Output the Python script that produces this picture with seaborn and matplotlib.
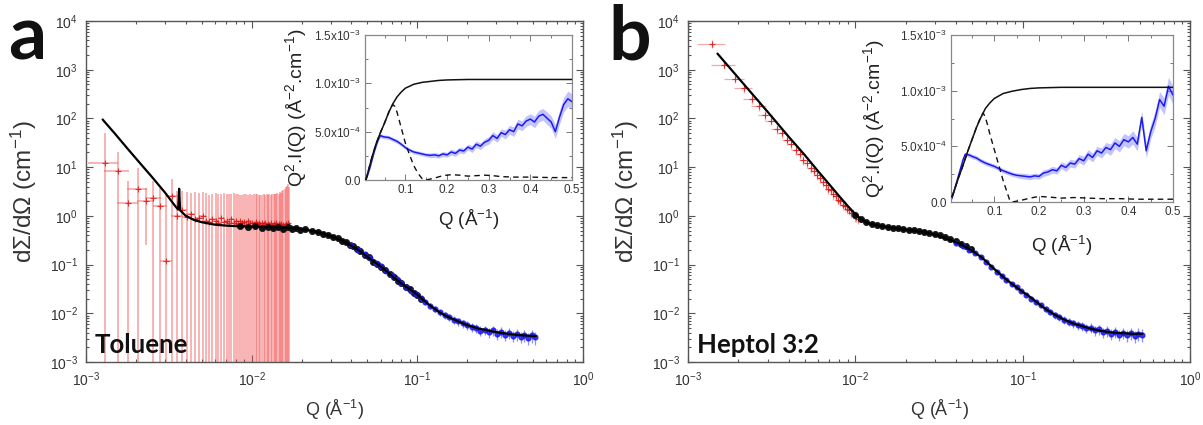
import matplotlib
matplotlib.use("Agg")
import numpy as np
import matplotlib.pyplot as plt
import seaborn as sns
from matplotlib.ticker import LogLocator, NullFormatter, AutoMinorLocator

sns.set_theme(style="ticks")
plt.rcParams["font.family"] = ["Liberation Sans", "DejaVu Sans"]
plt.rcParams["mathtext.default"] = "regular"

# ---------------- data: panel a (toluene) ----------------
# low-Q (red) points
q_sans_a = [0.00130, 0.00155, 0.00180, 0.00205, 0.00230, 0.00255, 0.00280, 0.00305, 0.00330, 0.00355,
            0.00380, 0.00405, 0.00430, 0.00455, 0.00480, 0.00505, 0.00530, 0.00555, 0.00580, 0.00605,
            0.00630, 0.00655, 0.00680, 0.00705, 0.00730, 0.00755, 0.00780, 0.00805, 0.00830, 0.00855,
            0.00880, 0.00905, 0.00930, 0.00955, 0.00980, 0.01005, 0.01030, 0.01055, 0.01080, 0.01105,
            0.01130, 0.01155, 0.01180, 0.01205, 0.01230, 0.01255, 0.01280, 0.01305, 0.01330, 0.01355,
            0.01380, 0.01405, 0.01430, 0.01455, 0.01480, 0.01505, 0.01530, 0.01555, 0.01580, 0.01605,
            0.01630, 0.01655, 0.01680]
i_sans_a = [12.0, 8.5, 1.8, 3.6, 2.0, 2.3, 1.6, 0.12, 2.6, 1.0,
            1.3, 0.95, 1.1, 0.85, 0.9, 1.0, 0.8, 0.75, 0.85, 0.8,
            0.7, 0.9, 0.75, 0.8, 0.7, 0.85, 0.72, 0.78, 0.68, 0.8,
            0.7, 0.74, 0.66, 0.78, 0.7, 0.72, 0.65, 0.75, 0.68, 0.7,
            0.64, 0.72, 0.67, 0.7, 0.62, 0.69, 0.66, 0.71, 0.63, 0.68,
            0.65, 0.7, 0.62, 0.67, 0.64, 0.69, 0.61, 0.66, 0.63, 0.68,
            0.6, 0.7, 0.65]
e_sans_a = [38.0, 12.0, 3.5, 6.0, 1.75, 2.8, 2.2, 2.6, 3.0, 2.2,
            2.0, 2.1, 1.8, 2.2, 2.0, 2.1, 2.2, 1.9, 2.0, 2.1,
            2.1, 1.9, 2.2, 2.0, 2.1, 1.9, 2.2, 2.0, 2.1, 1.9,
            2.0, 2.1, 2.2, 1.9, 2.1, 2.0, 2.2, 2.0, 2.1, 2.0,
            2.1, 2.0, 2.1, 2.0, 2.2, 2.0, 2.1, 2.0, 2.2, 2.1,
            2.2, 2.1, 2.3, 2.2, 2.4, 2.3, 2.6, 2.7, 3.0, 3.2,
            3.5, 3.8, 3.2]
SANS_DQ = 0.00027

# mid-Q (black) points
q_mid_a = [0.0085, 0.0095, 0.0105, 0.0115, 0.0125, 0.0135, 0.0145, 0.0155, 0.0165, 0.0175,
           0.0185, 0.0195, 0.021, 0.023, 0.025, 0.027, 0.029, 0.031, 0.033, 0.035,
           0.037, 0.039, 0.041, 0.043, 0.045, 0.048, 0.051, 0.054, 0.057, 0.060,
           0.064, 0.068, 0.072, 0.076, 0.080, 0.085, 0.090, 0.095, 0.100, 0.105]
i_mid_a = [0.63, 0.58, 0.62, 0.57, 0.60, 0.56, 0.59, 0.55, 0.58, 0.54,
           0.56, 0.52, 0.53, 0.48, 0.47, 0.42, 0.41, 0.36, 0.35, 0.30,
           0.29, 0.25, 0.235, 0.205, 0.19, 0.16, 0.14, 0.115, 0.104, 0.088,
           0.077, 0.064, 0.056, 0.047, 0.042, 0.035, 0.031, 0.026, 0.024, 0.020]
MID_REL_ERR = 0.12

# high-Q (blue) points, same Q grid for both panels
q_saxs = [0.040, 0.044, 0.048, 0.052, 0.056, 0.060, 0.065, 0.070, 0.075, 0.080,
          0.086, 0.092, 0.098, 0.105, 0.112, 0.120, 0.128, 0.137, 0.146, 0.156,
          0.166, 0.177, 0.188, 0.200, 0.213, 0.226, 0.240, 0.255, 0.270, 0.286,
          0.303, 0.320, 0.338, 0.357, 0.377, 0.398, 0.420, 0.443, 0.467, 0.492,
          0.515]
i_saxs_a = [0.25, 0.20, 0.165, 0.135, 0.11, 0.092, 0.073, 0.060, 0.050, 0.041,
            0.035, 0.029, 0.025, 0.0205, 0.0172, 0.0142, 0.0122, 0.0104, 0.0091, 0.0082,
            0.0074, 0.0068, 0.0062, 0.0058, 0.0052, 0.0050, 0.0044, 0.0046, 0.0041, 0.0045,
            0.0038, 0.0042, 0.0036, 0.0040, 0.0034, 0.0037, 0.0033, 0.0036, 0.0031, 0.0035,
            0.0032]
rel_err_saxs = [0.05, 0.05, 0.06, 0.06, 0.06, 0.07, 0.07, 0.08, 0.08, 0.09,
                0.09, 0.10, 0.10, 0.11, 0.12, 0.12, 0.13, 0.14, 0.15, 0.16,
                0.17, 0.18, 0.19, 0.20, 0.20, 0.21, 0.22, 0.22, 0.23, 0.24,
                0.24, 0.25, 0.25, 0.26, 0.26, 0.27, 0.27, 0.28, 0.28, 0.30,
                0.30]

# model fit (black line)
q_fit_a = [0.00126, 0.0015, 0.0018, 0.0021, 0.0025, 0.0030, 0.0035, 0.00360, 0.00365, 0.00370,
           0.0040, 0.0045, 0.0050, 0.0060, 0.0070, 0.0085, 0.010, 0.012, 0.015, 0.018,
           0.021, 0.024, 0.027, 0.031, 0.036, 0.042, 0.047, 0.052, 0.058, 0.065,
           0.071, 0.080, 0.090, 0.100, 0.116, 0.136, 0.150, 0.177, 0.200, 0.232,
           0.270, 0.300, 0.350, 0.400, 0.450, 0.520]
i_fit_a = [95, 48, 23, 12.5, 6.3, 3.0, 1.5, 1.35, 3.6, 1.3,
           1.0, 0.82, 0.74, 0.66, 0.63, 0.61, 0.60, 0.59, 0.57, 0.55,
           0.52, 0.48, 0.43, 0.37, 0.30, 0.22, 0.17, 0.13, 0.10, 0.074,
           0.057, 0.041, 0.031, 0.024, 0.0155, 0.0105, 0.0087, 0.0068, 0.0057, 0.0049,
           0.0044, 0.0041, 0.0038, 0.0036, 0.0035, 0.0034]

# ---------------- data: panel b (heptol 3:2) ----------------
q_sans_b = [0.00140, 0.00165, 0.00190, 0.00215, 0.00240, 0.00265, 0.00290, 0.00315, 0.00340, 0.00365,
            0.00390, 0.00415, 0.00440, 0.00465, 0.00490, 0.00515, 0.00540, 0.00565, 0.00590, 0.00615,
            0.00640, 0.00665, 0.00690, 0.00715, 0.00740, 0.00765, 0.00790, 0.00815, 0.00840, 0.00865,
            0.00890, 0.00915, 0.00940, 0.00965, 0.00990, 0.01015, 0.01040]
i_sans_b = [3400, 1250, 650, 420, 250, 180, 118, 90, 62, 50,
            36, 30, 22, 18.5, 14.2, 12.3, 9.6, 8.5, 6.8, 6.1,
            4.9, 4.4, 3.6, 3.35, 2.75, 2.55, 2.15, 2.0, 1.7, 1.62,
            1.4, 1.33, 1.17, 1.12, 1.0, 0.97, 0.88]
e_sans_b = [600, 200, 120, 80, 50, 36, 24, 18, 13, 10,
            7.5, 6.2, 4.6, 3.9, 3.0, 2.6, 2.0, 1.8, 1.45, 1.3,
            1.05, 0.95, 0.8, 0.72, 0.6, 0.56, 0.48, 0.44, 0.38, 0.36,
            0.32, 0.3, 0.27, 0.26, 0.24, 0.23, 0.21]

q_mid_b = [0.0100, 0.0108, 0.0116, 0.0125, 0.0135, 0.0145, 0.0156, 0.0168, 0.0180, 0.0194,
           0.0208, 0.0224, 0.0240, 0.0258, 0.0277, 0.0298, 0.0320, 0.0344, 0.0370, 0.0397,
           0.0427, 0.0459, 0.0493]
i_mid_b = [1.02, 0.86, 0.74, 0.69, 0.64, 0.62, 0.59, 0.57, 0.555, 0.54,
           0.52, 0.51, 0.49, 0.47, 0.455, 0.43, 0.40, 0.37, 0.335, 0.30,
           0.27, 0.235, 0.205]

i_saxs_b = [0.28, 0.24, 0.20, 0.17, 0.14, 0.115, 0.09, 0.071, 0.058, 0.048,
            0.040, 0.034, 0.029, 0.024, 0.020, 0.017, 0.0145, 0.0122, 0.0106, 0.0093,
            0.0083, 0.0074, 0.0067, 0.0062, 0.0057, 0.0055, 0.0050, 0.0051, 0.0045, 0.0047,
            0.0041, 0.0044, 0.0038, 0.0042, 0.0036, 0.0040, 0.0035, 0.0039, 0.0034, 0.0038,
            0.0036]

q_fit_b = [0.0015, 0.0020, 0.0030, 0.0040, 0.0050, 0.0060, 0.0070, 0.0080, 0.0090, 0.0100,
           0.0110, 0.0120, 0.0140, 0.0170, 0.0210, 0.0260, 0.0310, 0.0360, 0.0420, 0.0490,
           0.0570, 0.0650, 0.0710, 0.0800, 0.0900, 0.0980, 0.110, 0.125, 0.136, 0.155,
           0.177, 0.200, 0.232, 0.270, 0.300, 0.350, 0.400, 0.450, 0.520]
i_fit_b = [2140, 680, 135, 42, 17.5, 8.2, 4.4, 2.55, 1.6, 1.08,
           0.82, 0.70, 0.62, 0.56, 0.51, 0.46, 0.40, 0.33, 0.27, 0.20,
           0.14, 0.092, 0.070, 0.049, 0.036, 0.029, 0.022, 0.0155, 0.0125, 0.0094,
           0.0074, 0.0062, 0.0053, 0.0046, 0.0043, 0.0040, 0.0039, 0.0038, 0.0038]

# ---------------- data: Kratky insets (units of 1e-4) ----------------
q_kr = [0.005, 0.010, 0.015, 0.020, 0.025, 0.030, 0.035, 0.040, 0.045, 0.050,
        0.06, 0.07, 0.08, 0.09, 0.10, 0.11, 0.12, 0.13, 0.14, 0.15,
        0.16, 0.17, 0.18, 0.19, 0.20, 0.21, 0.22, 0.23, 0.24, 0.25,
        0.26, 0.27, 0.28, 0.29, 0.30, 0.31, 0.32, 0.33, 0.34, 0.35,
        0.36, 0.37, 0.38, 0.39, 0.40, 0.41, 0.42, 0.43, 0.44, 0.45,
        0.46, 0.47, 0.48, 0.49, 0.50]
kr_a = [0.0, 0.6, 1.3, 2.1, 2.9, 3.6, 4.2, 4.6, 4.5, 4.45,
        4.4, 4.2, 4.0, 3.7, 3.35, 3.1, 2.9, 2.8, 2.7, 2.6,
        2.55, 2.6, 2.5, 2.7, 2.6, 2.9, 2.75, 3.1, 3.0, 3.4,
        3.2, 3.7, 3.5, 3.9, 4.1, 4.6, 4.3, 4.9, 4.7, 5.2,
        5.0, 5.8, 5.6, 6.1, 6.3, 6.0, 6.6, 6.8, 6.4, 6.0,
        5.0, 6.5, 7.8, 8.4, 8.1]
kr_b = [0.3, 1.0, 1.7, 2.4, 3.1, 3.8, 4.3, 4.25, 4.2, 4.1,
        3.95, 3.7, 3.5, 3.35, 3.2, 3.0, 2.8, 2.65, 2.5, 2.4,
        2.35, 2.3, 2.25, 2.35, 2.3, 2.6, 2.7, 2.9, 2.8, 3.3,
        3.1, 3.5, 3.4, 3.9, 3.7, 4.3, 4.0, 4.6, 4.4, 4.9,
        4.7, 5.3, 5.0, 5.6, 5.4, 5.8, 5.2, 7.6, 4.6, 6.3,
        7.5, 9.2, 8.6, 10.4, 9.6]
kr_err = [0.05, 0.1, 0.1, 0.1, 0.1, 0.15, 0.15, 0.2, 0.2, 0.2,
          0.2, 0.2, 0.2, 0.2, 0.2, 0.2, 0.2, 0.2, 0.2, 0.2,
          0.25, 0.25, 0.25, 0.25, 0.25, 0.3, 0.3, 0.3, 0.3, 0.3,
          0.35, 0.35, 0.35, 0.35, 0.4, 0.4, 0.4, 0.4, 0.45, 0.45,
          0.5, 0.5, 0.5, 0.55, 0.55, 0.6, 0.6, 0.6, 0.65, 0.65,
          0.7, 0.7, 0.75, 0.8, 0.8]

q_kr_fit = [0.005, 0.01, 0.02, 0.03, 0.04, 0.05, 0.06, 0.07, 0.08, 0.09,
            0.10, 0.12, 0.14, 0.16, 0.18, 0.20, 0.25, 0.30, 0.40, 0.50]
kr_fit_a = [0.0, 0.8, 2.4, 3.8, 4.9, 5.9, 7.0, 7.9, 8.6, 9.1,
            9.5, 9.9, 10.1, 10.2, 10.3, 10.35, 10.4, 10.4, 10.4, 10.4]
kr_fit_b = [0.45, 1.0, 2.2, 3.3, 4.5, 5.6, 6.7, 7.6, 8.4, 8.9,
            9.3, 9.75, 9.95, 10.1, 10.2, 10.25, 10.3, 10.3, 10.3, 10.3]

q_kr_dash_a = [0.005, 0.01, 0.02, 0.03, 0.04, 0.05, 0.06, 0.065, 0.07, 0.075,
               0.08, 0.09, 0.10, 0.11, 0.12, 0.13, 0.14, 0.15, 0.17, 0.19,
               0.21, 0.23, 0.25, 0.27, 0.29, 0.31, 0.33, 0.36, 0.40, 0.45, 0.50]
kr_dash_a = [0.0, 0.8, 2.4, 3.8, 4.9, 5.9, 7.0, 7.5, 7.8, 7.6,
             7.0, 5.4, 3.8, 2.6, 1.5, 0.7, 0.15, 0.0, 0.2, 0.45,
             0.55, 0.5, 0.4, 0.45, 0.5, 0.45, 0.35, 0.3, 0.3, 0.25, 0.25]
q_kr_dash_b = [0.005, 0.01, 0.02, 0.03, 0.04, 0.05, 0.06, 0.07, 0.075, 0.08,
               0.085, 0.09, 0.10, 0.11, 0.12, 0.13, 0.135, 0.14, 0.16, 0.18,
               0.20, 0.22, 0.25, 0.28, 0.31, 0.34, 0.38, 0.42, 0.46, 0.50]
kr_dash_b = [0.45, 1.0, 2.2, 3.3, 4.5, 5.6, 6.7, 7.7, 8.0, 7.6,
             6.9, 6.1, 4.7, 3.3, 1.9, 0.7, 0.1, 0.0, 0.15, 0.35,
             0.5, 0.45, 0.35, 0.4, 0.35, 0.3, 0.3, 0.25, 0.25, 0.25]

KR_UNIT = 1e-4

RED_BAR = "#f25050"
RED_PT = "#d81010"
BLUE_PT = "#1b1bef"
BLUE_BAR = "#7a7aff"
AXIS_GREY = "#555555"
TXT = "#333333"

W, H = 1203, 425
fig = plt.figure(figsize=(W / 100, H / 100), dpi=100)


def frac(x0, y0, x1, y1):
    return [x0 / W, 1 - y1 / H, (x1 - x0) / W, (y1 - y0) / H]


def style_main(ax, letter, name, lx):
    ax.set_xscale("log")
    ax.set_yscale("log")
    ax.set_xlim(1e-3, 1)
    ax.set_ylim(1e-3, 1e4)
    ax.xaxis.set_major_locator(LogLocator(base=10, numticks=10))
    ax.yaxis.set_major_locator(LogLocator(base=10, numticks=10))
    ax.xaxis.set_minor_locator(LogLocator(base=10, subs=np.arange(2, 10), numticks=10))
    ax.yaxis.set_minor_locator(LogLocator(base=10, subs=np.arange(2, 10), numticks=10))
    ax.yaxis.set_minor_formatter(NullFormatter())
    ax.xaxis.set_minor_formatter(NullFormatter())
    ax.tick_params(which="both", direction="in", top=True, right=True, color=AXIS_GREY,
                   labelcolor=TXT, labelsize=10, width=0.8)
    ax.tick_params(which="major", length=5, pad=6)
    ax.tick_params(which="minor", length=2.5)
    for s in ax.spines.values():
        s.set_color(AXIS_GREY)
        s.set_linewidth(1.0)
    ax.set_xlabel("Q (Å$^{-1}$)", fontsize=13, color=TXT)
    ax.set_ylabel("dΣ/dΩ (cm$^{-1}$)", fontsize=17.5, color=TXT)
    ax.xaxis.set_label_coords(0.5, -0.105)
    ax.yaxis.set_label_coords(-0.094, 0.5)
    ax.text(0.017, 0.026, name, transform=ax.transAxes, fontsize=18.5, fontweight="bold",
            family="Lato", color="#111111", va="baseline", ha="left")
    fig.text(lx / W, 1 - 60 / H, letter, fontsize=54, fontweight="bold", family="Lato",
             color="#111111", va="baseline", ha="left")


def style_inset(ax, lab_x):
    ax.set_xlim(0.003, 0.5)
    ax.set_ylim(0, 1.5e-3)
    ax.set_xticks([0.1, 0.2, 0.3, 0.4, 0.5])
    ax.set_xticklabels(["0.1", "0.2", "0.3", "0.4", "0.5"])
    ax.set_yticks([0, 5e-4, 1e-3, 1.5e-3])
    ax.set_yticklabels(["0.0", "5.0x10$^{-4}$", "1.0x10$^{-3}$", "1.5x10$^{-3}$"])
    ax.xaxis.set_minor_locator(AutoMinorLocator(2))
    ax.yaxis.set_minor_locator(AutoMinorLocator(2))
    ax.tick_params(which="both", direction="in", top=True, right=True, color="#777777",
                   labelcolor=TXT, labelsize=8.5, width=0.7, pad=3)
    ax.tick_params(which="major", length=4)
    ax.tick_params(which="minor", length=2)
    for s in ax.spines.values():
        s.set_color("#888888")
        s.set_linewidth(0.9)
    ax.set_facecolor("white")
    ax.set_xlabel("Q (Å$^{-1}$)", fontsize=13.5, color="#222222")
    ax.set_ylabel("Q$^{2}$.I(Q) (Å$^{-2}$.cm$^{-1}$)", fontsize=14, color="#222222")
    ax.xaxis.set_label_coords(0.5, -0.19)
    ax.yaxis.set_label_coords(lab_x, 0.5)


def draw_main(ax, q_s, i_s, e_s, q_m, i_m, i_x, q_f, i_f, bar_alpha, bar_lw):
    ax.errorbar(q_s, i_s, yerr=e_s, xerr=SANS_DQ, fmt="none", ecolor=RED_BAR,
                elinewidth=bar_lw, alpha=bar_alpha, zorder=1)
    sns.scatterplot(x=q_s, y=i_s, ax=ax, marker="+", color=RED_PT, s=14,
                    linewidth=0.8, alpha=0.8, zorder=2)
    i_m = np.array(i_m)
    ax.errorbar(q_m, i_m, yerr=i_m * MID_REL_ERR, fmt="none", ecolor="#222222",
                elinewidth=1.0, alpha=0.8, zorder=3)
    sns.scatterplot(x=q_m, y=i_m, ax=ax, marker="o", color="#111111", s=20,
                    edgecolor="#111111", linewidth=0.5, zorder=3)
    i_x = np.array(i_x)
    ax.errorbar(q_saxs, i_x, yerr=i_x * np.array(rel_err_saxs), fmt="o", ms=3.4,
                color=BLUE_PT, mec=BLUE_PT, ecolor=BLUE_BAR, elinewidth=0.9, alpha=0.85,
                zorder=3)
    sns.lineplot(x=q_f, y=i_f, ax=ax, color="black", linewidth=1.6, sort=False,
                 estimator=None, zorder=5)


def draw_inset(ax, kr, q_fit, kr_fit, q_d, kr_d):
    kr = np.array(kr) * KR_UNIT
    ax.fill_between(q_kr, kr - np.array(kr_err) * KR_UNIT, kr + np.array(kr_err) * KR_UNIT,
                    color=BLUE_BAR, alpha=0.45, linewidth=0, zorder=1)
    sns.lineplot(x=q_kr, y=kr, ax=ax, color=BLUE_PT, linewidth=1.1, sort=False,
                 estimator=None, zorder=2)
    sns.lineplot(x=q_fit, y=np.array(kr_fit) * KR_UNIT, ax=ax, color="#111111",
                 linewidth=1.1, sort=False, estimator=None, zorder=3)
    sns.lineplot(x=q_d, y=np.array(kr_d) * KR_UNIT, ax=ax, color="#111111",
                 linewidth=1.0, sort=False, estimator=None, dashes=False,
                 linestyle=(0, (4, 3)), zorder=3)


ax_a = fig.add_axes(frac(86, 21, 583, 362))
ax_b = fig.add_axes(frac(688, 21, 1190, 362))
style_main(ax_a, "a", "Toluene", 8)
style_main(ax_b, "b", "Heptol 3:2", 608)
draw_main(ax_a, q_sans_a, i_sans_a, e_sans_a, q_mid_a, i_mid_a, i_saxs_a,
          q_fit_a, i_fit_a, 0.5, 1.2)
draw_main(ax_b, q_sans_b, i_sans_b, e_sans_b, q_mid_b, i_mid_b, i_saxs_b,
          q_fit_b, i_fit_b, 0.5, 0.9)

in_a = fig.add_axes(frac(365, 35, 572, 180))
in_b = fig.add_axes(frac(951, 35, 1173, 202))
style_inset(in_a, -0.27)
style_inset(in_b, -0.29)
draw_inset(in_a, kr_a, q_kr_fit, kr_fit_a, q_kr_dash_a, kr_dash_a)
draw_inset(in_b, kr_b, q_kr_fit, kr_fit_b, q_kr_dash_b, kr_dash_b)

fig.savefig("out.png", dpi=100, facecolor="white")
